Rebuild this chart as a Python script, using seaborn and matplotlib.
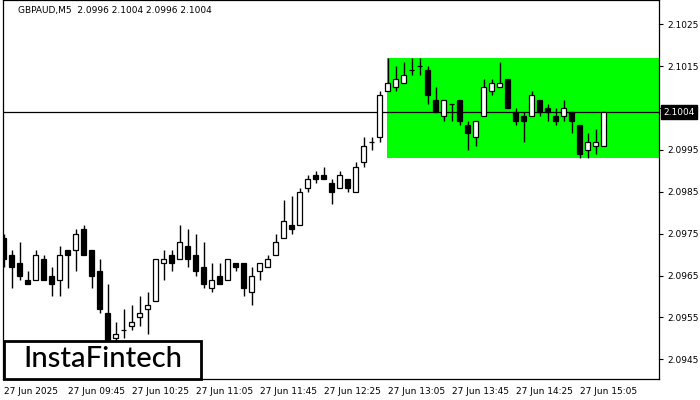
import numpy as np
import pandas as pd
import seaborn as sns
import matplotlib.pyplot as plt
from matplotlib.patches import Rectangle

# GBPAUD M5 candles (4 decimals)
opens = [2.0974, 2.0970, 2.0968, 2.0964, 2.0964, 2.0969, 2.0965, 2.0964, 2.0971, 2.0971,
         2.0976, 2.0971, 2.0966, 2.0956, 2.0950, 2.0952, 2.0953, 2.0955, 2.0957, 2.0959,
         2.0968, 2.0970, 2.0969, 2.0972, 2.0970, 2.0967, 2.0962, 2.0965, 2.0964, 2.0968,
         2.0968, 2.0961, 2.0966, 2.0967, 2.0970, 2.0974, 2.0977, 2.0977, 2.0986, 2.0989,
         2.0989, 2.0987, 2.0986, 2.0988, 2.0985, 2.0992, 2.0997, 2.0998, 2.1009, 2.1010,
         2.1011, 2.1014, 2.1015, 2.1014, 2.1007, 2.1003, 2.1006, 2.1007, 2.1001, 2.0998,
         2.1003, 2.1009, 2.1010, 2.1012, 2.1004, 2.1003, 2.1003, 2.1007, 2.1005, 2.1003,
         2.1003, 2.1004, 2.1001, 2.0995, 2.0996, 2.0996]
highs = [2.0975, 2.0971, 2.0973, 2.0966, 2.0971, 2.0970, 2.0967, 2.0972, 2.0971, 2.0976,
         2.0977, 2.0971, 2.0969, 2.0963, 2.0954, 2.0957, 2.0958, 2.0960, 2.0961, 2.0969,
         2.0971, 2.0971, 2.0977, 2.0976, 2.0975, 2.0973, 2.0968, 2.0968, 2.0969, 2.0968,
         2.0968, 2.0967, 2.0968, 2.0970, 2.0975, 2.0983, 2.0984, 2.0986, 2.0989, 2.0990,
         2.0991, 2.0988, 2.0990, 2.0988, 2.0992, 2.0998, 2.0998, 2.1009, 2.1017, 2.1015,
         2.1016, 2.1017, 2.1017, 2.1015, 2.1010, 2.1007, 2.1006, 2.1007, 2.1002, 2.1002,
         2.1012, 2.1012, 2.1016, 2.1012, 2.1005, 2.1004, 2.1009, 2.1007, 2.1006, 2.1005,
         2.1007, 2.1004, 2.1001, 2.0999, 2.1000, 2.1004]
lows = [2.0967, 2.0962, 2.0964, 2.0963, 2.0964, 2.0964, 2.0960, 2.0960, 2.0962, 2.0966,
        2.0970, 2.0962, 2.0956, 2.0947, 2.0948, 2.0950, 2.0952, 2.0953, 2.0951, 2.0959,
        2.0964, 2.0966, 2.0969, 2.0967, 2.0965, 2.0962, 2.0961, 2.0963, 2.0964, 2.0966,
        2.0960, 2.0958, 2.0964, 2.0967, 2.0970, 2.0974, 2.0975, 2.0977, 2.0985, 2.0987,
        2.0988, 2.0982, 2.0986, 2.0985, 2.0985, 2.0991, 2.0995, 2.0997, 2.1009, 2.1009,
        2.1011, 2.1013, 2.1013, 2.1006, 2.1004, 2.1002, 2.1002, 2.1001, 2.0995, 2.0996,
        2.1003, 2.1008, 2.1010, 2.1005, 2.1001, 2.0997, 2.1003, 2.1003, 2.1002, 2.1001,
        2.1002, 2.0999, 2.0993, 2.0993, 2.0994, 2.0996]
closes = [2.0969, 2.0967, 2.0965, 2.0963, 2.0970, 2.0964, 2.0963, 2.0970, 2.0970, 2.0975,
          2.0970, 2.0965, 2.0957, 2.0949, 2.0951, 2.0952, 2.0954, 2.0956, 2.0958, 2.0969,
          2.0969, 2.0968, 2.0973, 2.0969, 2.0966, 2.0963, 2.0964, 2.0963, 2.0969, 2.0967,
          2.0962, 2.0965, 2.0968, 2.0969, 2.0973, 2.0978, 2.0976, 2.0985, 2.0988, 2.0988,
          2.0988, 2.0985, 2.0989, 2.0986, 2.0991, 2.0996, 2.0997, 2.1008, 2.1011, 2.1012,
          2.1013, 2.1014, 2.1015, 2.1008, 2.1004, 2.1007, 2.1006, 2.1002, 2.0999, 2.1002,
          2.1010, 2.1011, 2.1011, 2.1005, 2.1002, 2.1002, 2.1008, 2.1004, 2.1004, 2.1002,
          2.1005, 2.1002, 2.0994, 2.0997, 2.0997, 2.1004]

tick_bars = [0, 8, 16, 24, 32, 40, 48, 56, 64, 72]
tick_labels = ["27 Jun 2025", "27 Jun 09:45", "27 Jun 10:25", "27 Jun 11:05", "27 Jun 11:45",
               "27 Jun 12:25", "27 Jun 13:05", "27 Jun 13:45", "27 Jun 14:25", "27 Jun 15:05"]
price_ticks = [2.0945, 2.0955, 2.0965, 2.0975, 2.0985, 2.0995, 2.1005, 2.1015, 2.1025]

# rectangle pattern + current price
rect_start = 48
rect_top = 2.1017
rect_bottom = 2.0993
last_price = 2.1004
title = "GBPAUD,M5  2.0996 2.1004 2.0996 2.1004"

df = pd.DataFrame({"open": opens, "high": highs, "low": lows, "close": closes})
df["bar"] = np.arange(len(df))
df["bull"] = df["close"] >= df["open"]

sns.set_style("white")
plt.rcParams["font.family"] = ["DejaVu Sans"]

fig = plt.figure(figsize=(7, 4), dpi=100)
ax = fig.add_axes([3/700, 21/400, 656/700, 379/400])

x_left = -0.075
x_right = 81.92
ax.set_xlim(x_left, x_right)
ax.set_ylim(2.09403, 2.10308)

ax.add_patch(Rectangle((rect_start - 0.1, rect_bottom), x_right - rect_start + 1,
                       rect_top - rect_bottom, facecolor="#00ff00", edgecolor="none", zorder=1))
ax.axhline(last_price, color="black", lw=0.9, zorder=2)

ax.vlines(df["bar"], df["low"], df["high"], color="black", lw=1.0, zorder=3)
body_low = df[["open", "close"]].min(axis=1)
body_h = (df["close"] - df["open"]).abs()
colors = np.where(df["bull"], "white", "black")
ax.bar(df["bar"], body_h, bottom=body_low, width=0.6, color=colors,
       edgecolor="black", linewidth=0.9, zorder=4)

for s in ax.spines.values():
    s.set_color("black")
    s.set_linewidth(0.9)

ax.yaxis.tick_right()
ax.set_yticks(price_ticks)
ax.set_yticklabels([f"{p:.4f}" for p in price_ticks])
ax.set_xticks(tick_bars)
ax.set_xticklabels(tick_labels, ha="left")
ax.tick_params(axis="both", length=3, width=0.8, color="black", labelsize=6.5,
               labelcolor="black", pad=3, direction="out")

# current price marker on the scale (covers the 2.1005 label like the terminal does)
ax.annotate(f"{last_price:.4f}", xy=(1.0, last_price), xycoords=("axes fraction", "data"),
            xytext=(3, 0), textcoords="offset points", ha="left", va="center",
            fontsize=6.5, color="white", zorder=10, annotation_clip=False,
            bbox=dict(boxstyle="square,pad=0.25", facecolor="black", edgecolor="black"))

fig.text(18/700, 1 - 11/400, title, fontsize=6.5, ha="left", va="center", color="black")

# logo box
fig.add_artist(Rectangle((4/700, 21/400), 197/700, 38/400, transform=fig.transFigure,
                         facecolor="white", edgecolor="black", lw=2, zorder=20))
fig.text(103/700, 1 - 359/400, "InstaFintech", fontsize=21, family="Lato", fontweight="medium",
         ha="center", va="center", color="black", zorder=21)

fig.savefig("out.png", dpi=100)
